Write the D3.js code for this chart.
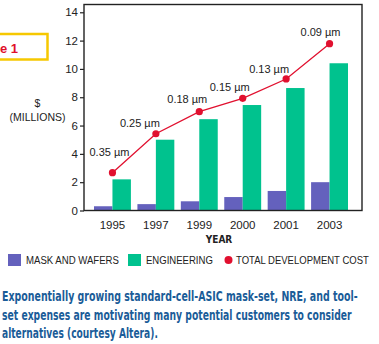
<!DOCTYPE html>
<html>
<head>
<meta charset="utf-8">
<script src="https://cdn.jsdelivr.net/npm/d3@7"></script>
<style>
  body { margin: 0; background: #fff; }
  svg { display: block; font-family: "Liberation Sans", Arial, sans-serif; }
</style>
</head>
<body>
<svg width="379" height="344"></svg>
<script>
const years = ["1995", "1997", "1999", "2000", "2001", "2003"];
const maskWafers = [0.3, 0.45, 0.65, 0.95, 1.38, 2.0];
const engineering = [2.2, 5.0, 6.45, 7.45, 8.65, 10.4];
const totalCost = [2.67, 5.42, 6.98, 7.92, 9.29, 11.78];
const nodes = ["0.35 µm", "0.25 µm", "0.18 µm", "0.15 µm", "0.13 µm", "0.09 µm"];
const yTicks = [0, 2, 4, 6, 8, 10, 12, 14];

// nudges so the node labels sit clear of the line
const labelDx = [-3, -16, -12, -13, -17, -9];
const labelDy = [-17, -7, -9, -7, -6, -8];

const svg = d3.select("svg");
const plot = {left: 84, right: 362, top: 4.5, bottom: 210.5};

const colors = {mask: "#6461bd", eng: "#00c28e", total: "#e1102f"};

const x0 = d3.scaleBand()
  .domain(years)
  .range([94, 348])
  .paddingInner(0.15)
  .paddingOuter(0);

const x1 = d3.scaleBand()
  .domain(["mask", "eng"])
  .range([0, x0.bandwidth()]);

const y = d3.scaleLinear()
  .domain([0, 14.55])
  .range([plot.bottom, plot.top]);

// figure tag, cut off at the page edge
svg.append("rect")
  .attr("x", -20).attr("y", 34)
  .attr("width", 67.5).attr("height", 25.5)
  .attr("fill", "none")
  .attr("stroke", "#f6c800")
  .attr("stroke-width", 2.5);

svg.append("text")
  .attr("x", 0).attr("y", 52.5)
  .attr("fill", "#e0102a")
  .style("font-size", "13px")
  .style("font-weight", "bold")
  .text("e 1");

// y axis
const yAxis = svg.append("g")
  .attr("transform", `translate(${plot.left},0)`)
  .call(d3.axisLeft(y).tickValues(yTicks).tickSize(4).tickPadding(2));
yAxis.select(".domain").remove();
yAxis.selectAll("line").attr("stroke", "#222").attr("stroke-width", 1.2);
yAxis.selectAll("text")
  .attr("fill", "#222")
  .style("font-size", "11.5px")
  .style("font-family", "Liberation Sans, Arial, sans-serif");

// x axis labels only
const xAxis = svg.append("g")
  .attr("transform", `translate(0,${plot.bottom})`)
  .call(d3.axisBottom(x0).tickSize(0).tickPadding(10));
xAxis.select(".domain").remove();
xAxis.selectAll(".tick").attr("transform", d => `translate(${x0(d) + x1("eng")},0)`);
xAxis.selectAll("text")
  .attr("fill", "#222")
  .style("font-size", "11.5px")
  .style("font-family", "Liberation Sans, Arial, sans-serif");

svg.append("text")
  .attr("x", 37.5).attr("y", 107)
  .attr("text-anchor", "middle")
  .attr("fill", "#222")
  .style("font-size", "10.5px")
  .text("$");

svg.append("text")
  .attr("x", 37.5).attr("y", 120.5)
  .attr("text-anchor", "middle")
  .attr("fill", "#222")
  .style("font-size", "10.5px")
  .text("(MILLIONS)");

svg.append("text")
  .attr("x", 219).attr("y", 243)
  .attr("text-anchor", "middle")
  .attr("fill", "#222")
  .style("font-size", "10px")
  .style("font-weight", "bold")
  .style("font-family", "Liberation Sans Narrow, DejaVu Sans Condensed, Arial, sans-serif")
  .text("YEAR");

// bars
const groups = svg.selectAll(".yr")
  .data(years)
  .join("g")
  .attr("class", "yr")
  .attr("transform", d => `translate(${x0(d)},0)`);

groups.append("rect")
  .attr("x", x1("mask"))
  .attr("y", (d, i) => y(maskWafers[i]))
  .attr("width", x1.bandwidth())
  .attr("height", (d, i) => y(0) - y(maskWafers[i]))
  .attr("fill", colors.mask);

groups.append("rect")
  .attr("x", x1("eng"))
  .attr("y", (d, i) => y(engineering[i]))
  .attr("width", x1.bandwidth())
  .attr("height", (d, i) => y(0) - y(engineering[i]))
  .attr("fill", colors.eng);

// frame around the plot
svg.append("rect")
  .attr("x", plot.left).attr("y", plot.top)
  .attr("width", plot.right - plot.left)
  .attr("height", plot.bottom - plot.top)
  .attr("fill", "none")
  .attr("stroke", "#222")
  .attr("stroke-width", 1.4);

// total cost line
const px = (d, i) => x0(years[i]) + x1("eng");
const line = d3.line()
  .x(px)
  .y(d => y(d));

svg.append("path")
  .datum(totalCost)
  .attr("d", line)
  .attr("fill", "none")
  .attr("stroke", colors.total)
  .attr("stroke-width", 1.3);

svg.selectAll(".dot")
  .data(totalCost)
  .join("circle")
  .attr("class", "dot")
  .attr("cx", px)
  .attr("cy", d => y(d))
  .attr("r", 3.6)
  .attr("fill", colors.total);

svg.selectAll(".node")
  .data(nodes)
  .join("text")
  .attr("class", "node")
  .attr("x", (d, i) => px(totalCost[i], i) + labelDx[i])
  .attr("y", (d, i) => y(totalCost[i]) + labelDy[i])
  .attr("text-anchor", "middle")
  .attr("fill", "#222")
  .style("font-size", "11px")
  .text(d => d);

// squeeze a text horizontally so it spans the given width
function fitWidth(sel, x, yPos, w) {
  const len = sel.node().getComputedTextLength();
  sel.attr("transform", `translate(${x},${yPos}) scale(${w / len},1)`);
}

// legend
const legend = svg.append("g").attr("transform", "translate(0,260)");
const legendItems = [
  {label: "MASK AND WAFERS", type: "rect", color: colors.mask, x: 8, w: 93},
  {label: "ENGINEERING", type: "rect", color: colors.eng, x: 128, w: 67},
  {label: "TOTAL DEVELOPMENT COST", type: "dot", color: colors.total, x: 224, w: 133}
];

legendItems.forEach(item => {
  if (item.type === "rect") {
    legend.append("rect")
      .attr("x", item.x).attr("y", -6)
      .attr("width", 13).attr("height", 12)
      .attr("fill", item.color);
  } else {
    legend.append("circle")
      .attr("cx", item.x + 4.5).attr("cy", 0)
      .attr("r", 4)
      .attr("fill", item.color);
  }
  const t = legend.append("text")
    .attr("fill", "#222")
    .style("font-size", "10px")
    .text(item.label);
  fitWidth(t, item.type === "rect" ? item.x + 18 : item.x + 12, 4, item.w);
});

// caption
const caption = [
  "Exponentially growing standard-cell-ASIC mask-set, NRE, and tool-",
  "set expenses are motivating many potential customers to consider",
  "alternatives (courtesy Altera)."
];
const captionWidths = [356, 350, 156];
caption.forEach((c, i) => {
  const t = svg.append("text")
    .attr("fill", "#1a5c98")
    .style("font-size", "13.5px")
    .style("font-weight", "bold")
    .style("font-family", "Liberation Sans Narrow, DejaVu Sans Condensed, Arial Narrow, sans-serif")
    .text(c);
  fitWidth(t, 2, 301 + i * 18.5, captionWidths[i]);
});
</script>
</body>
</html>
